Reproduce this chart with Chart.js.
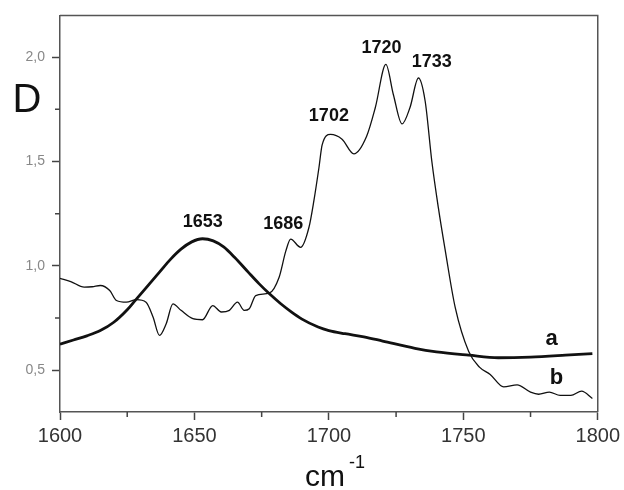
<!DOCTYPE html>
<html><head><meta charset="utf-8">
<script src="https://cdn.jsdelivr.net/npm/chart.js@4"></script>
<style>html,body{margin:0;padding:0;background:#fff;}#wrap{width:624px;height:490px;}</style>
</head><body><div id="wrap"><canvas id="c" width="624" height="490"></canvas></div>
<script>
// curve a (thick)
const aX = [1600,1605,1610,1615,1620,1625,1628,1632,1637,1641,1645,1649,1653,1657,1661,1665,1670,1674,1678,1682,1686,1690,1696,1700,1706,1713,1720,1732,1740,1752,1763,1775,1788,1798];
const aY = [0.625,0.645,0.665,0.69,0.73,0.79,0.835,0.895,0.97,1.03,1.08,1.115,1.13,1.12,1.09,1.04,0.97,0.915,0.865,0.82,0.78,0.745,0.707,0.69,0.675,0.66,0.64,0.605,0.588,0.572,0.56,0.563,0.572,0.58];
// curve b (thin)
const bX = [1600,1604,1609,1612,1615,1618.5,1621,1624.7,1628.4,1632,1634.6,1637,1639.5,1642,1645,1649.4,1653,1656.8,1660,1663,1666,1668.5,1670.4,1672.8,1677.8,1681.5,1684,1685.8,1689.5,1692.6,1694.4,1696.3,1697.5,1700.6,1704.9,1709.3,1714,1717.3,1721.2,1724,1727.2,1730.2,1733.3,1735.8,1738.3,1740.7,1743.2,1747,1752,1756,1760,1765,1770,1775,1778,1782,1786,1790,1794,1798];
const bY = [0.94,0.925,0.898,0.9,0.906,0.882,0.834,0.826,0.838,0.826,0.755,0.667,0.723,0.818,0.787,0.747,0.742,0.81,0.779,0.787,0.826,0.787,0.795,0.858,0.869,0.946,1.072,1.128,1.089,1.185,1.31,1.47,1.58,1.63,1.607,1.537,1.62,1.76,1.965,1.82,1.68,1.76,1.90,1.79,1.50,1.28,1.08,0.80,0.59,0.515,0.48,0.42,0.43,0.395,0.385,0.395,0.38,0.38,0.40,0.365];

const xTicks = [1600,1650,1700,1750,1800];
const yTicks = [0.5,1.0,1.5,2.0];
const xMinor = [1625,1675,1725,1775];
const yMinor = [0.75,1.25,1.75];

const peakLabels = ['1653','1686','1702','1720','1733'];
const peakX = [1653.1,1683,1700,1719.6,1738.3];
const peakY = [1.211,1.199,1.718,2.046,1.975];
const curveLabels = ['a','b'];
const curveLabelX = [1782.8,1784.6];
const curveLabelY = [0.648,0.462];

const FONT = "'Liberation Sans', Arial, sans-serif";

const decor = {
  id: 'decor',
  afterDraw(chart) {
    const ctx = chart.ctx, ca = chart.chartArea;
    const xs = chart.scales.x, ys = chart.scales.y;
    ctx.save();
    ctx.strokeStyle = '#555'; ctx.lineWidth = 1.5;
    ctx.beginPath();
    ctx.moveTo(ca.left, ca.top); ctx.lineTo(ca.right, ca.top); ctx.lineTo(ca.right, ca.bottom);
    ctx.stroke();
    ctx.strokeStyle = '#444'; ctx.lineWidth = 1.5;
    ctx.beginPath();
    xMinor.forEach(v => { const p = xs.getPixelForValue(v); ctx.moveTo(p, ca.bottom); ctx.lineTo(p, ca.bottom + 5); });
    yMinor.forEach(v => { const p = ys.getPixelForValue(v); ctx.moveTo(ca.left, p); ctx.lineTo(ca.left - 5, p); });
    ctx.stroke();
    ctx.fillStyle = '#111';
    ctx.textAlign = 'center'; ctx.textBaseline = 'middle';
    ctx.font = "bold 18px " + FONT;
    peakLabels.forEach((t, i) => ctx.fillText(t, xs.getPixelForValue(peakX[i]), ys.getPixelForValue(peakY[i])));
    ctx.font = "bold 22px " + FONT;
    curveLabels.forEach((t, i) => ctx.fillText(t, xs.getPixelForValue(curveLabelX[i]), ys.getPixelForValue(curveLabelY[i])));
    ctx.font = "40px " + FONT;
    ctx.fillText('D', 27, 101);
    ctx.textAlign = 'left'; ctx.textBaseline = 'alphabetic';
    ctx.font = "30px " + FONT;
    ctx.fillText('cm', 305, 486);
    ctx.font = "18px " + FONT;
    ctx.fillText('-1', 349, 468);
    ctx.restore();
  }
};

new Chart(document.getElementById('c'), {
  type: 'line',
  data: {
    datasets: [
      { label: 'a', data: aX.map((x, i) => ({x, y: aY[i]})), borderColor: '#111', borderWidth: 2.8, pointRadius: 0, cubicInterpolationMode: 'monotone', fill: false },
      { label: 'b', data: bX.map((x, i) => ({x, y: bY[i]})), borderColor: '#111', borderWidth: 1.3, pointRadius: 0, cubicInterpolationMode: 'monotone', fill: false }
    ]
  },
  options: {
    responsive: false,
    animation: false,
    devicePixelRatio: 1,
    layout: { padding: { top: 15, right: 24, left: 0, bottom: 0 } },
    plugins: { legend: { display: false }, tooltip: { enabled: false } },
    scales: {
      x: {
        type: 'linear', min: 1600, max: 1800,
        afterBuildTicks: s => { s.ticks = xTicks.map(v => ({ value: v })); },
        afterFit: s => { s.height = 78; },
        ticks: { callback: v => String(v), font: { family: FONT, size: 20 }, color: '#333', padding: 4, maxRotation: 0, autoSkip: false },
        grid: { drawOnChartArea: false, drawTicks: true, tickLength: 8, tickWidth: 1.5, tickColor: '#444' },
        border: { display: true, color: '#555', width: 1.5 }
      },
      y: {
        type: 'linear', min: 0.3, max: 2.2,
        afterBuildTicks: s => { s.ticks = yTicks.map(v => ({ value: v })); },
        afterFit: s => { s.width = 60; },
        ticks: { callback: v => v.toFixed(1).replace('.', ','), font: { family: FONT, size: 14 }, color: '#888', padding: 7, autoSkip: false },
        grid: { drawOnChartArea: false, drawTicks: true, tickLength: 8, tickWidth: 1.5, tickColor: '#444' },
        border: { display: true, color: '#555', width: 1.5 }
      }
    }
  },
  plugins: [decor]
});
</script></body></html>
